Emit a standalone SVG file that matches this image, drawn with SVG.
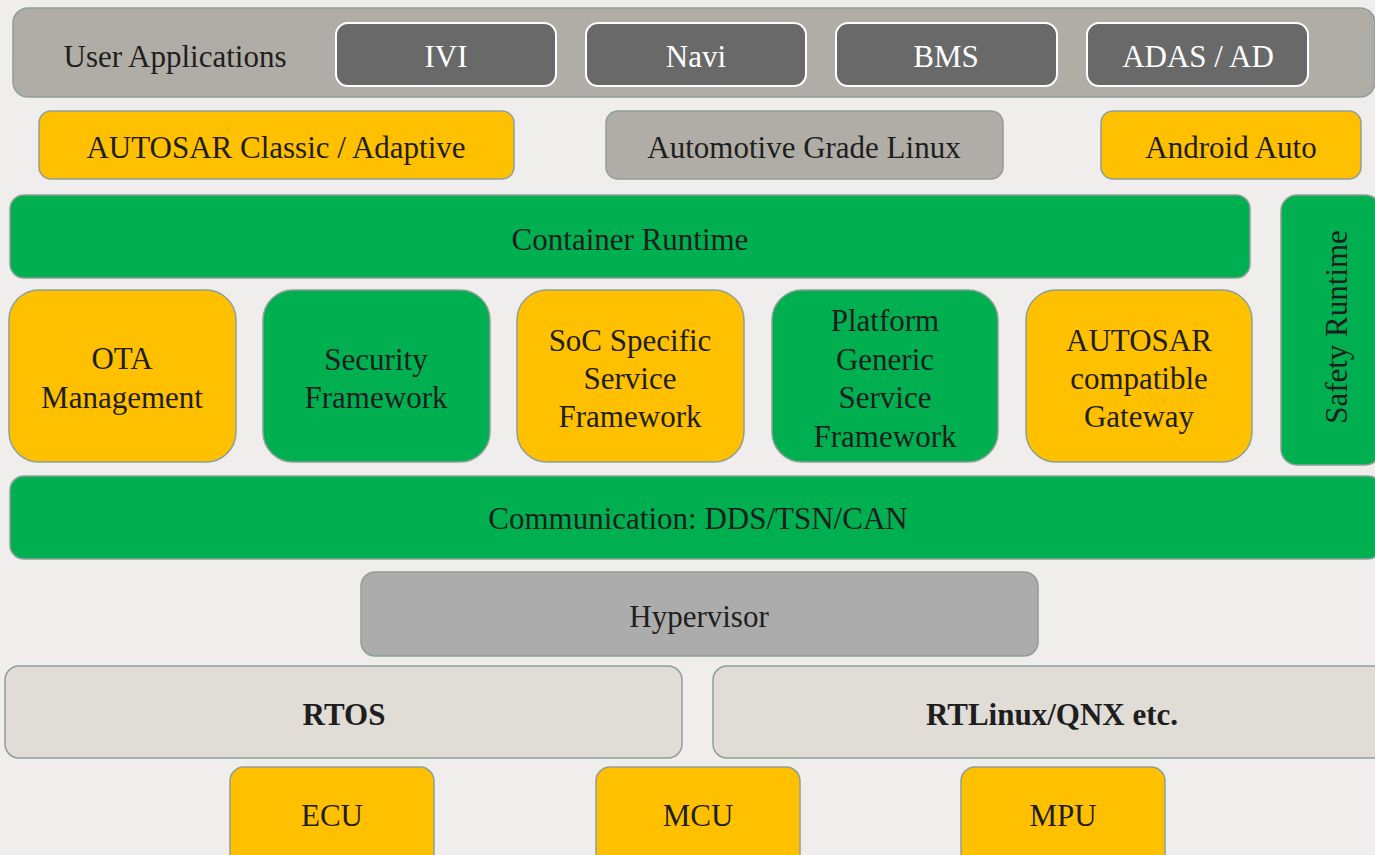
<svg xmlns="http://www.w3.org/2000/svg" width="1375" height="855" viewBox="0 0 1375 855">
<style>
.b{stroke:#8f9f98;stroke-width:1.5}
.y{fill:#ffc000}
.g{fill:#00b050}
.lg{fill:#b0ada6}
.dg{fill:#696969;stroke:#ffffff;stroke-width:2}
.hv{fill:#acacac}
.os{fill:#e0dcd6}
text{font-family:"Liberation Serif","Times New Roman",serif;font-size:31px;fill:#1e1e1e;text-anchor:middle}
.w{fill:#ffffff}
.bold{font-weight:bold}
</style>
<rect width="1375" height="855" fill="#efeeec"/>
<g id="user-apps">
<rect class="b lg" x="13" y="8" width="1362" height="89" rx="15"/>
<text x="175" y="67">User Applications</text>
</g>
<g id="ivi"><rect class="dg" x="336" y="23" width="220" height="63" rx="12"/><text class="w" x="446" y="67">IVI</text></g>
<g id="navi"><rect class="dg" x="586" y="23" width="220" height="63" rx="12"/><text class="w" x="696" y="67">Navi</text></g>
<g id="bms"><rect class="dg" x="836" y="23" width="221" height="63" rx="12"/><text class="w" x="946" y="67">BMS</text></g>
<g id="adas"><rect class="dg" x="1087" y="23" width="221" height="63" rx="12"/><text class="w" x="1198" y="67">ADAS / AD</text></g>
<g id="autosar"><rect class="b y" x="39" y="111" width="475" height="68" rx="12"/><text x="276" y="158">AUTOSAR Classic / Adaptive</text></g>
<g id="agl"><rect class="b lg" x="606" y="111" width="397" height="68" rx="12"/><text x="804" y="158">Automotive Grade Linux</text></g>
<g id="android"><rect class="b y" x="1101" y="111" width="260" height="68" rx="12"/><text x="1231" y="158">Android Auto</text></g>
<g id="container"><rect class="b g" x="10" y="195" width="1240" height="83" rx="14"/><text x="630" y="250">Container Runtime</text></g>
<g id="safety"><rect class="b g" x="1281" y="195" width="100" height="270" rx="16"/><text transform="translate(1347,327) rotate(-90)">Safety Runtime</text></g>
<g id="ota"><rect class="b y" x="9" y="290" width="227" height="172" rx="30"/><text x="122" y="369">OTA</text><text x="122" y="408">Management</text></g>
<g id="security"><rect class="b g" x="263" y="290" width="227" height="172" rx="30"/><text x="376" y="370">Security</text><text x="376" y="408">Framework</text></g>
<g id="soc"><rect class="b y" x="517" y="290" width="227" height="172" rx="30"/><text x="630" y="351">SoC Specific</text><text x="630" y="389">Service</text><text x="630" y="427">Framework</text></g>
<g id="platform"><rect class="b g" x="772" y="290" width="226" height="172" rx="30"/><text x="885" y="331">Platform</text><text x="885" y="370">Generic</text><text x="885" y="408">Service</text><text x="885" y="447">Framework</text></g>
<g id="gateway"><rect class="b y" x="1026" y="290" width="226" height="172" rx="30"/><text x="1139" y="351">AUTOSAR</text><text x="1139" y="389">compatible</text><text x="1139" y="427">Gateway</text></g>
<g id="comm"><rect class="b g" x="10" y="476" width="1372" height="83" rx="14"/><text x="698" y="529">Communication: DDS/TSN/CAN</text></g>
<g id="hypervisor"><rect class="b hv" x="361" y="572" width="677" height="84" rx="14"/><text x="699" y="627">Hypervisor</text></g>
<g id="rtos"><rect class="b os" x="5" y="666" width="677" height="92" rx="14"/><text class="bold" x="344" y="725">RTOS</text></g>
<g id="rtlinux"><rect class="b os" x="713" y="666" width="680" height="92" rx="14"/><text class="bold" x="1052" y="725">RTLinux/QNX etc.</text></g>
<g id="ecu"><rect class="b y" x="230" y="767" width="204" height="100" rx="14"/><text x="332" y="826">ECU</text></g>
<g id="mcu"><rect class="b y" x="596" y="767" width="204" height="100" rx="14"/><text x="698" y="826">MCU</text></g>
<g id="mpu"><rect class="b y" x="961" y="767" width="204" height="100" rx="14"/><text x="1063" y="826">MPU</text></g>
<g id="connectors"></g>
</svg>
